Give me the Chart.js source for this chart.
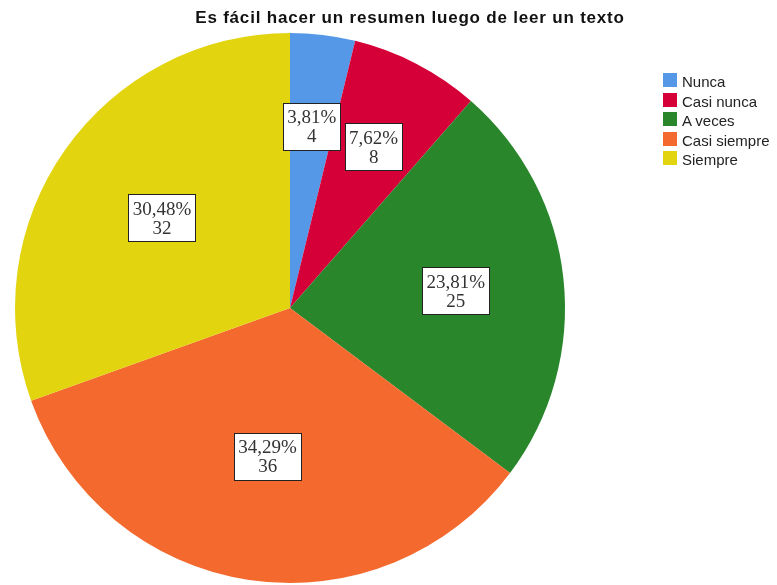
<!DOCTYPE html>
<html>
<head>
<meta charset="utf-8">
<script src="https://cdn.jsdelivr.net/npm/chart.js@4.4.0/dist/chart.umd.min.js"></script>
<style>
    body { margin: 0; background: #fff; overflow: hidden; }
    #wrap { position: relative; width: 777px; height: 585px; }
    #titulo {
        position: absolute; left: 410px; top: 8px; transform: translateX(-50%);
        white-space: nowrap; font: bold 17px "Liberation Sans", Arial, sans-serif;
        letter-spacing: 0.8px; color: #111;
    }
    #leyenda { position: absolute; left: 663px; top: 72px; font: 15px "Liberation Sans", Arial, sans-serif; color: #222; }
    #leyenda div { height: 19.5px; line-height: 19.5px; display: flex; align-items: flex-start; white-space: nowrap; }
    #leyenda span.caja { width: 14px; height: 14px; margin-right: 5px; margin-top: 1px; flex: none; }
</style>
</head>
<body>
<div id="wrap">
    <canvas id="myChart" width="777" height="585"></canvas>
    <div id="titulo">Es fácil hacer un resumen luego de leer un texto</div>
    <div id="leyenda"></div>
</div>
<script>
const categorias = ['Nunca', 'Casi nunca', 'A veces', 'Casi siempre', 'Siempre'];
const frecuencias = [4, 8, 25, 36, 32];
const colores = ['#5598e7', '#d60039', '#29862b', '#f4692d', '#e2d40f'];

// etiquetas con porcentaje y frecuencia en cada sector
const etiquetas = {
    id: 'etiquetas',
    afterDatasetsDraw(chart) {
        const ctx = chart.ctx;
        const datos = chart.data.datasets[0].data;
        const total = datos.reduce((a, b) => a + b, 0);
        const arcos = chart.getDatasetMeta(0).data;
        ctx.save();
        ctx.font = '19px "Liberation Serif", "Times New Roman", serif';
        ctx.textAlign = 'center';
        ctx.textBaseline = 'middle';
        arcos.forEach((arc, i) => {
            const p = arc.getProps(['x', 'y', 'startAngle', 'endAngle', 'outerRadius'], true);
            const ang = p.endAngle - p.startAngle;
            const mitad = (p.startAngle + p.endAngle) / 2;
            // centroide del sector
            const d = 4 * p.outerRadius * Math.sin(ang / 2) / (3 * ang);
            const cx = p.x + Math.cos(mitad) * d;
            const cy = p.y + Math.sin(mitad) * d;
            const l1 = (datos[i] / total * 100).toFixed(2).replace('.', ',') + '%';
            const l2 = String(datos[i]);
            const w = Math.round(Math.max(ctx.measureText(l1).width, ctx.measureText(l2).width) + 8);
            const h = 47;
            const x0 = Math.round(cx - w / 2) + 0.5;
            const y0 = Math.round(cy - h / 2) + 0.5;
            ctx.fillStyle = '#fff';
            ctx.fillRect(x0, y0, w, h);
            ctx.strokeStyle = '#222';
            ctx.lineWidth = 1;
            ctx.strokeRect(x0, y0, w, h);
            ctx.fillStyle = '#333';
            ctx.fillText(l1, cx, cy - 8);
            ctx.fillText(l2, cx, cy + 11);
        });
        ctx.restore();
    }
};

const ctx = document.getElementById('myChart').getContext('2d');
const myChart = new Chart(ctx, {
    type: 'pie',
    data: {
        labels: categorias,
        datasets: [{
            data: frecuencias,
            backgroundColor: colores,
            borderWidth: 0
        }]
    },
    options: {
        responsive: false,
        animation: false,
        layout: {
            padding: { left: 15, right: 212, top: 33, bottom: 2 }
        },
        plugins: {
            legend: { display: false },
            title: { display: false },
            tooltip: { enabled: false }
        }
    },
    plugins: [etiquetas]
});

// leyenda HTML a partir de los elementos de la leyenda del gráfico
const items = myChart.options.plugins.legend.labels.generateLabels(myChart);
const leyenda = document.getElementById('leyenda');
items.forEach(item => {
    const fila = document.createElement('div');
    const caja = document.createElement('span');
    caja.className = 'caja';
    caja.style.background = item.fillStyle;
    fila.appendChild(caja);
    fila.appendChild(document.createTextNode(item.text));
    leyenda.appendChild(fila);
});
</script>
</body>
</html>
